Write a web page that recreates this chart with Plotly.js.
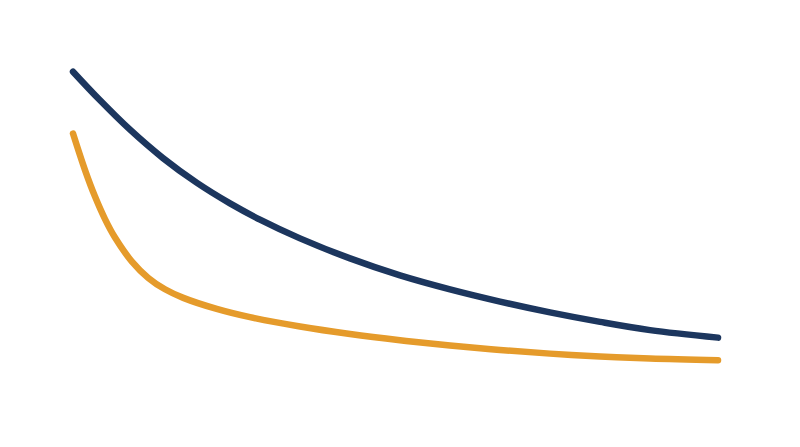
<!DOCTYPE html>
<html>
<head>
<meta charset="utf-8">
<script src="https://cdn.plot.ly/plotly-3.0.1.min.js"></script>
<style>
  html, body { margin: 0; padding: 0; background: #fff; }
  #chart { width: 800px; height: 447px; }
  .js-line { stroke-linecap: round; }
</style>
</head>
<body>
<div id="chart"></div>
<script>
// values (arbitrary units, x 0..100)
var x_navy = [0, 4.19, 8.84, 13.95, 19.22, 24.34, 28.99, 35.19, 42.95, 50.70, 58.45, 66.20, 73.95, 81.71, 89.46, 100]
var y_navy = [83.96, 77.56, 70.98, 64.63, 59.08, 54.50, 50.87, 46.67, 42.19, 38.39, 35.26, 32.53, 30.11, 27.99, 26.15, 24.47]

var x_orange = [0, 1.86, 3.41, 4.96, 6.51, 9.10, 11.67, 14.26, 17.10, 22.28, 27.44, 35.19, 42.95, 50.70, 58.45, 66.20, 73.95, 81.71, 89.46, 100]
var y_orange = [70.13, 61.95, 56.02, 50.98, 46.85, 41.54, 37.83, 35.28, 33.36, 30.89, 29.04, 26.96, 25.28, 23.89, 22.71, 21.72, 20.89, 20.25, 19.80, 19.42]

var navy = '#1c365e'
var orange = '#e59b2b'

var traces = [
    {
        x: x_navy,
        y: y_navy,
        mode: 'lines',
        type: 'scatter',
        line: { color: navy, width: 6.5, shape: 'spline', smoothing: 1 },
        hoverinfo: 'skip'
    },
    {
        x: x_orange,
        y: y_orange,
        mode: 'lines',
        type: 'scatter',
        line: { color: orange, width: 6.5, shape: 'spline', smoothing: 1 },
        hoverinfo: 'skip'
    }
]

var layout = {
    width: 800,
    height: 447,
    margin: { l: 0, r: 0, t: 0, b: 0 },
    paper_bgcolor: '#ffffff',
    plot_bgcolor: '#ffffff',
    showlegend: false,
    xaxis: { range: [-11.32, 112.71], visible: false, fixedrange: true },
    yaxis: { range: [0, 100], visible: false, fixedrange: true }
}

Plotly.newPlot('chart', traces, layout, { displayModeBar: false, staticPlot: true })
</script>
</body>
</html>
